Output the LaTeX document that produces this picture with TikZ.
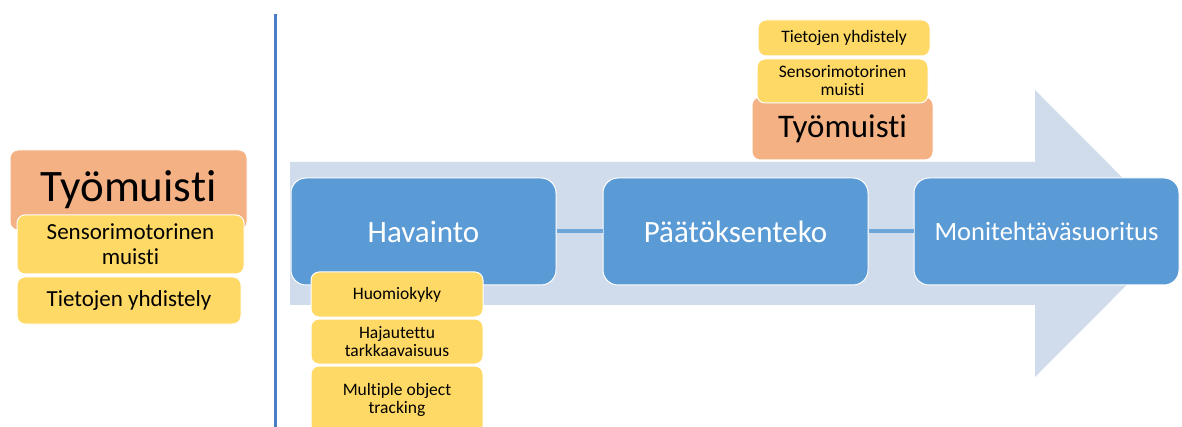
\documentclass[tikz,border=0pt]{standalone}
\usepackage{fontspec}
\setmainfont[Ligatures={NoCommon}]{Carlito}
\definecolor{wmorange}{HTML}{F4B183}
\definecolor{wmyellow}{HTML}{FFD966}
\definecolor{procblue}{HTML}{5B9BD5}
\definecolor{flowarrow}{HTML}{D0DCEC}
\definecolor{divider}{HTML}{4A7EC4}
\definecolor{linkblue}{HTML}{6FA6DA}
\tikzset{
  box/.style={rectangle, rounded corners=8, draw=white, line width=1pt,
    inner sep=0pt, align=center, text=black},
  wmbox/.style={box, fill=wmorange},
  skillbox/.style={box, fill=wmyellow},
  procbox/.style={box, fill=procblue, rounded corners=15, text=white,
    minimum width=265, minimum height=107},
  link/.style={draw=linkblue, line width=4pt},
}
\begin{document}
\begin{tikzpicture}[x=1pt,y=-1pt]
\clip (0,0) rectangle (1182,427);
\fill[white] (0,0) rectangle (1182,427);

% left legend: working memory and its components
\node[wmbox, minimum width=237, minimum height=80,
  font=\fontsize{45}{50}\selectfont] (wmL) at (128.5,190) {Työmuisti};
\node[skillbox, minimum width=227, minimum height=59,
  font=\fontsize{23}{25}\selectfont] (sensL) at (130.5,244.5) {Sensorimotorinen\\muisti};
\node[skillbox, minimum width=224, minimum height=47,
  font=\fontsize{23}{25}\selectfont] (combL) at (129,300.5) {Tietojen yhdistely};

% divider
\coordinate (divtop) at (275,14);
\coordinate (divbot) at (275,427);
\draw[divider, line width=3pt] (divtop) -- (divbot);

% process arrow in the background
\fill[flowarrow] (290,162) -- (1035,162) -- (1035,90) -- (1178,233.5)
  -- (1035,377) -- (1035,305) -- (290,305) -- cycle;

% process stages, linked left to right
\node[procbox, font=\fontsize{31}{34}\selectfont] (perc) at (423.5,231.5) {Havainto};
\node[procbox, font=\fontsize{31}{34}\selectfont] (dec) at (735.5,231.5) {Päätöksenteko};
\node[procbox, font=\fontsize{26.5}{30}\selectfont] (multi) at (1046.5,231.5) {Monitehtäväsuoritus};
\draw[link] (perc.east) -- (dec.west);
\draw[link] (dec.east) -- (multi.west);

% working memory above decision making
\node[wmbox, minimum width=181, minimum height=63,
  font=\fontsize{33}{36}\selectfont] (wmR) at (842.5,128.5) {Työmuisti};
\node[skillbox, minimum width=171, minimum height=44,
  font=\fontsize{17.5}{18}\selectfont] (sensR) at (842.5,81) {Sensorimotorinen\\muisti};
\node[skillbox, minimum width=172, minimum height=36,
  font=\fontsize{17.5}{19}\selectfont] (combR) at (844,38) {Tietojen yhdistely};

% perception skills
\node[skillbox, minimum width=172, minimum height=45,
  font=\fontsize{17.5}{19}\selectfont] (att) at (397,294.5) {Huomiokyky};
\node[skillbox, minimum width=172, minimum height=45,
  font=\fontsize{17.5}{18}\selectfont] (div) at (397,341.5) {Hajautettu\\tarkkaavaisuus};
\node[skillbox, minimum width=172, minimum height=68,
  font=\fontsize{17.5}{18}\selectfont] (mot) at (397,400) {Multiple object\\tracking};
\end{tikzpicture}
\end{document}
